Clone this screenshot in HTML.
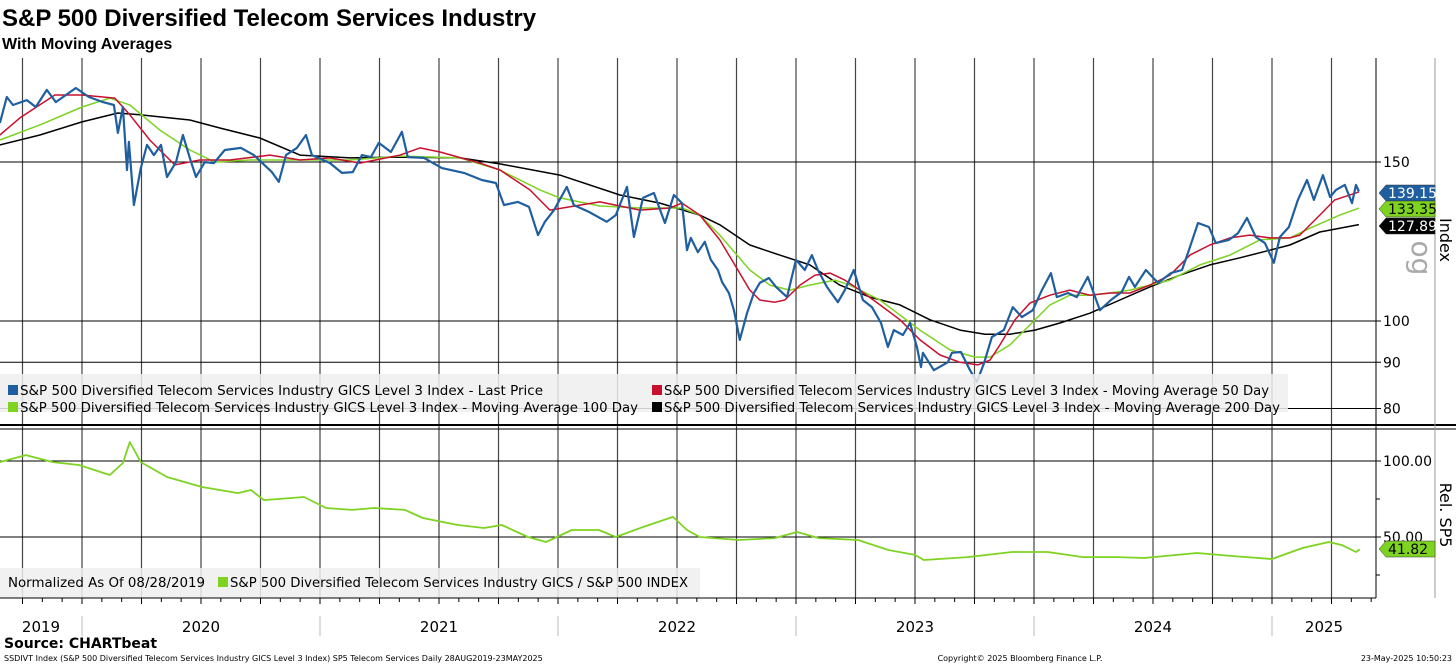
<!DOCTYPE html>
<html><head><meta charset="utf-8">
<style>
body{margin:0;background:#fff;width:1456px;height:665px;overflow:hidden;font-family:"Liberation Sans",sans-serif;}
svg text{font-family:"DejaVu Sans","Liberation Sans",sans-serif;}
</style></head>
<body>
<svg id="chart" width="1456" height="665" viewBox="0 0 1456 665" xmlns="http://www.w3.org/2000/svg">
<text x="2" y="26" font-size="24" font-weight="bold" fill="#000" style="font-family:'Liberation Sans',sans-serif">S&amp;P 500 Diversified Telecom Services Industry</text>
<text x="2" y="49" font-size="16" font-weight="bold" fill="#000" style="font-family:'Liberation Sans',sans-serif">With Moving Averages</text>
<g id="grid"></g>
<g id="series"></g>
<g id="legend"></g>
<g id="axes"></g>
</svg>
<script>
// Top panel data (decimal year, index value)
const priceDates=[2019.655,2019.684,2019.71,2019.768,2019.806,2019.852,2019.89,2019.974,2020.029,2020.088,2020.134,2020.151,2020.172,2020.189,2020.197,2020.218,2020.247,2020.273,2020.302,2020.332,2020.357,2020.395,2020.424,2020.453,2020.479,2020.516,2020.554,2020.6,2020.668,2020.722,2020.798,2020.827,2020.857,2020.903,2020.941,2020.966,2021.042,2021.092,2021.138,2021.176,2021.214,2021.247,2021.298,2021.344,2021.369,2021.437,2021.512,2021.605,2021.68,2021.739,2021.773,2021.831,2021.878,2021.916,2021.945,2021.983,2022.037,2022.067,2022.13,2022.205,2022.243,2022.29,2022.319,2022.357,2022.403,2022.449,2022.487,2022.521,2022.542,2022.558,2022.588,2022.617,2022.642,2022.672,2022.689,2022.718,2022.739,2022.764,2022.794,2022.823,2022.848,2022.886,2022.916,2022.962,2023.0,2023.037,2023.067,2023.092,2023.13,2023.176,2023.205,2023.243,2023.281,2023.319,2023.357,2023.386,2023.411,2023.449,2023.479,2023.508,2023.525,2023.533,2023.579,2023.638,2023.655,2023.693,2023.731,2023.76,2023.79,2023.823,2023.873,2023.911,2023.949,2023.995,2024.033,2024.071,2024.096,2024.143,2024.18,2024.226,2024.277,2024.323,2024.369,2024.399,2024.424,2024.47,2024.521,2024.575,2024.622,2024.651,2024.689,2024.735,2024.764,2024.819,2024.857,2024.895,2024.932,2024.97,2025.008,2025.033,2025.071,2025.109,2025.147,2025.176,2025.214,2025.244,2025.269,2025.306,2025.336,2025.353,2025.365];
const priceVals=[165.7,177.1,173.5,175.7,172.6,180.3,174.8,181.2,177.1,174.8,173.5,161.6,172.6,147.0,157.9,134.4,147.7,156.7,152.7,156.7,144.4,150.0,160.7,151.6,144.4,150.0,149.6,154.7,155.5,152.7,146.2,142.6,152.7,155.5,160.7,152.7,149.6,145.9,146.2,152.7,151.9,157.5,153.9,162.0,151.9,151.6,147.7,145.9,143.3,142.2,134.4,135.5,133.8,124.5,128.8,132.7,140.8,134.4,132.1,128.8,131.0,140.8,123.9,136.9,138.6,128.4,137.9,135.1,119.8,123.6,119.2,122.4,116.9,113.9,110.5,107.4,102.8,95.3,102.0,107.4,110.2,111.6,109.1,106.3,116.9,113.9,118.3,113.9,109.1,104.9,108.2,113.9,105.5,103.6,99.5,93.6,97.7,96.5,99.5,93.6,88.9,92.2,88.2,90.0,92.2,92.4,88.2,85.6,89.8,96.0,97.7,103.6,101.0,102.8,108.2,113.0,106.3,107.4,106.3,111.9,102.8,105.5,107.7,111.9,109.1,113.9,110.2,113.0,113.9,119.8,128.4,127.1,122.0,123.0,125.1,130.1,123.9,122.0,116.0,123.9,127.1,136.2,143.3,136.2,145.1,137.2,139.7,141.5,135.1,141.5,139.15];
const ma50Dates=[2019.655,2019.739,2019.886,2020.0,2020.138,2020.201,2020.285,2020.39,2020.495,2020.622,2020.79,2020.916,2021.042,2021.168,2021.336,2021.42,2021.504,2021.672,2021.756,2021.882,2021.966,2022.092,2022.176,2022.344,2022.47,2022.521,2022.596,2022.68,2022.743,2022.806,2022.848,2022.911,2022.953,2023.017,2023.079,2023.143,2023.205,2023.268,2023.353,2023.437,2023.521,2023.605,2023.689,2023.764,2023.815,2023.857,2023.92,2023.983,2024.067,2024.151,2024.235,2024.319,2024.403,2024.487,2024.571,2024.655,2024.739,2024.823,2024.907,2024.991,2025.075,2025.117,2025.201,2025.264,2025.365];
const ma50Vals=[160.7,167.9,178.0,178.0,176.6,169.2,158.7,148.9,150.8,150.8,152.7,150.8,151.6,149.6,152.7,155.5,153.9,149.6,147.0,139.7,132.7,134.4,135.5,132.7,133.4,135.1,131.0,123.0,115.4,108.2,105.5,104.9,105.5,109.6,112.4,113.0,111.0,108.2,104.2,100.3,95.3,91.7,90.0,89.4,90.5,94.1,100.3,104.7,106.8,108.2,106.8,107.4,107.4,109.6,112.4,118.3,121.4,123.6,124.5,123.6,123.6,124.5,131.0,136.2,139.0];
const ma100Dates=[2019.655,2019.823,2020.0,2020.117,2020.201,2020.327,2020.453,2020.558,2020.705,2020.916,2021.126,2021.336,2021.588,2021.756,2021.924,2022.008,2022.176,2022.344,2022.521,2022.596,2022.68,2022.806,2022.89,2022.974,2023.058,2023.163,2023.226,2023.353,2023.521,2023.647,2023.752,2023.815,2023.899,2023.983,2024.067,2024.151,2024.235,2024.319,2024.403,2024.487,2024.571,2024.697,2024.823,2024.949,2025.075,2025.159,2025.285,2025.365];
const ma100Vals=[158.7,164.9,172.6,176.6,173.5,162.8,154.7,150.0,150.8,150.8,150.8,152.3,151.6,147.0,139.7,136.9,134.1,133.4,133.4,131.0,124.5,113.9,109.6,108.2,109.6,111.0,109.6,105.5,97.7,92.9,91.2,91.2,94.1,99.0,104.2,106.8,106.8,107.4,108.2,109.6,111.0,115.4,118.3,123.0,123.6,126.7,131.0,133.35];
const ma200Dates=[2019.655,2019.823,2020.0,2020.151,2020.243,2020.453,2020.579,2020.747,2020.916,2021.126,2021.336,2021.588,2021.756,2022.008,2022.26,2022.428,2022.596,2022.68,2022.806,2022.932,2023.058,2023.184,2023.31,2023.437,2023.563,2023.689,2023.794,2023.899,2024.004,2024.109,2024.235,2024.361,2024.487,2024.613,2024.739,2024.865,2024.991,2025.075,2025.201,2025.365];
const ma200Vals=[156.7,160.7,166.2,170.0,169.2,167.0,163.6,159.5,152.7,151.6,151.9,151.6,149.3,145.1,137.9,135.1,131.0,127.8,121.4,118.3,115.4,109.6,106.3,104.2,100.3,97.7,96.7,96.7,97.7,99.5,102.0,105.5,109.1,112.4,115.4,117.5,119.8,121.4,125.5,127.89];
// Bottom panel: relative to S&P 500, normalized
const relDates=[2019.655,2019.764,2019.878,2019.987,2020.117,2020.172,2020.201,2020.247,2020.357,2020.504,2020.655,2020.71,2020.764,2020.933,2021.025,2021.134,2021.227,2021.357,2021.432,2021.579,2021.689,2021.764,2021.874,2021.95,2022.058,2022.172,2022.243,2022.357,2022.483,2022.542,2022.596,2022.76,2022.911,2023.004,2023.096,2023.26,2023.39,2023.5,2023.537,2023.722,2023.907,2024.058,2024.206,2024.353,2024.462,2024.685,2024.832,2025.0,2025.13,2025.239,2025.294,2025.353,2025.369];
const relVals=[99.3,103.9,99.3,97.4,90.8,98.7,112.5,99.3,89.5,82.9,78.9,80.9,74.3,76.3,69.1,67.8,69.1,67.8,62.5,57.9,55.9,57.9,50.0,46.7,54.6,54.6,50.0,56.6,63.2,54.6,50.0,48.0,49.3,53.3,49.3,48.0,41.4,38.2,34.9,36.8,40.1,40.1,36.8,36.8,36.2,39.5,37.5,35.5,42.8,46.7,44.7,40.1,41.82];
const topTicks=[80,90,100,150];
const relTicks=[100,50];
const yearLabels=["2019","2020","2021","2022","2023","2024","2025"];

const NS="http://www.w3.org/2000/svg";
const R=1376;
function X(t){return 82+(t-2020)*238;}
function YT(v){return 321-392*Math.log(v/100);}
function YB(v){return 537-(v-50)*1.52;}
function mk(tag,attrs,parent){const e=document.createElementNS(NS,tag);for(const k in attrs)e.setAttribute(k,attrs[k]);parent.appendChild(e);return e;}
const grid=document.getElementById('grid'),ser=document.getElementById('series'),leg=document.getElementById('legend'),ax=document.getElementById('axes');

for(let q=2019.75;q<=2025.3;q+=0.25){const x=X(q);
 const l=mk('line',{x1:x,y1:58,x2:x,y2:598,stroke:'#444','stroke-width':1.2},grid);
 
 }
topTicks.forEach(v=>{const y=YT(v);
 const l=mk('line',{x1:0,y1:y,x2:R+5,y2:y,stroke:'#000','stroke-width':1},grid);
 
 
 const t=mk('text',{x:R+7,y:y+5,'font-size':14,fill:'#000'},ax);t.textContent=v;
 
 });
relTicks.forEach(v=>{const y=YB(v);
 const l=mk('line',{x1:0,y1:y,x2:R+5,y2:y,stroke:'#000','stroke-width':1},grid);
 
 
 const t=mk('text',{x:R+7,y:y+5,'font-size':14,fill:'#000'},ax);t.textContent=v.toFixed(2);
 
 });
[75,25].forEach(v=>{mk('line',{x1:R,y1:YB(v),x2:R+4,y2:YB(v),stroke:'#000'},ax);});

function path(ds,vs,yf,color,w,name){let d='';ds.forEach((t,i)=>{d+=(i?'L':'M')+X(t).toFixed(1)+' '+yf(vs[i]).toFixed(1);});
 const p=mk('path',{d:d,fill:'none',stroke:color,'stroke-width':w,'stroke-linejoin':'round'},ser);
 
 }
path(ma200Dates,ma200Vals,YT,'#000',1.5,'ma200-line');
path(ma100Dates,ma100Vals,YT,'#7ed321',1.5,'ma100-line');
path(ma50Dates,ma50Vals,YT,'#c8102e',1.5,'ma50-line');
path(priceDates,priceVals,YT,'#1f5fa0',2.2,'last-price-line');
path(relDates,relVals,YB,'#7ed321',1.8,'relative-line');

mk('line',{x1:R,y1:58,x2:R,y2:598,stroke:'#000'},ax);
mk('line',{x1:0,y1:425,x2:1456,y2:425,stroke:'#000','stroke-width':2},ax);
mk('line',{x1:0,y1:429,x2:1456,y2:429,stroke:'#000','stroke-width':1},ax);
mk('line',{x1:0,y1:598,x2:R,y2:598,stroke:'#000'},ax);
mk('line',{x1:1435,y1:58,x2:1435,y2:598,stroke:'#999'},ax);
for(let m=0;m<70;m++){const x=X(2019.75+m/12);if(x>R)break;mk('line',{x1:x,y1:598,x2:x,y2:(m%3==0)?604:602,stroke:'#000'},ax);}
for(let y=2020;y<=2025;y++){const x=X(y);mk('line',{x1:x,y1:616,x2:x,y2:636,stroke:'#bbb'},ax);}
yearLabels.forEach((s,i)=>{const yr=2019+i;let c=i==0?(0+X(2020))/2:(X(yr)+Math.min(X(yr+1),R))/2;
 const t=mk('text',{x:c,y:632,'font-size':15,'text-anchor':'middle',fill:'#000'},ax);t.textContent=s;
 
 });

function box(x,y,w,h,name){const r=mk('rect',{x:x,y:y,width:w,height:h,fill:'#eeeeee','fill-opacity':0.85},leg);
 
 }
box(0,374,1288,38,'top-legend');
box(0,568,700,30,'bottom-legend');
function entry(x,y,color,txt,len){if(color)mk('rect',{x:x,y:y-10,width:10,height:10,fill:color},leg);
 const t=mk('text',{x:x+(color?12:0),y:y,'font-size':13.5,fill:'#000',textLength:len,lengthAdjust:'spacingAndGlyphs'},leg);t.textContent=txt;
 
 }
entry(8,395,'#1f5fa0','S&P 500 Diversified Telecom Services Industry GICS Level 3 Index - Last Price',523);
entry(652,395,'#c8102e','S&P 500 Diversified Telecom Services Industry GICS Level 3 Index - Moving Average 50 Day',605);
entry(8,412,'#7ed321','S&P 500 Diversified Telecom Services Industry GICS Level 3 Index - Moving Average 100 Day',618);
entry(652,412,'#000','S&P 500 Diversified Telecom Services Industry GICS Level 3 Index - Moving Average 200 Day',616);
entry(8,587,null,'Normalized As Of 08/28/2019',197);
entry(218,587,'#7ed321','S&P 500 Diversified Telecom Services Industry GICS / S&P 500 INDEX',458);

function tag(y,bg,fg,txt,name){const x=R+3;mk('path',{d:`M${x} ${y} L${x+7} ${y-8} L${x+56} ${y-8} L${x+56} ${y+8} L${x+7} ${y+8} Z`,fill:bg,stroke:'#333','stroke-width':0.5},ax);
 const t=mk('text',{x:x+9,y:y+5,'font-size':14,fill:fg},ax);t.textContent=txt;
 
 }
tag(193,'#1f5fa0','#fff','139.15','last-price-tag');
tag(209,'#7ed321','#000','133.35','ma100-tag');
tag(226,'#000','#fff','127.89','ma200-tag');
tag(549,'#7ed321','#000','41.82','relative-tag');

function rot(x,y,txt,size,color,name){const t=mk('text',{x:x,y:y,'font-size':size,fill:color,transform:`rotate(90 ${x} ${y})`,'text-anchor':'middle'},ax);t.textContent=txt;
 
 }
rot(1440,240,'Index',16,'#000','top-axis-title');
rot(1412,258,'og',28,'#aaa','watermark');
rot(1440,515,'Rel. SP5',16,'#000','bottom-axis-title');

function txt(x,y,s,size,weight,anchor,name){const t=mk('text',{x:x,y:y,'font-size':size,'font-weight':weight,'text-anchor':anchor,fill:'#000'},ax);t.textContent=s;
 
 }
txt(4,648,'Source: CHARTbeat',14,'bold','start','source-label');
txt(4,661,'SSDIVT Index (S&P 500 Diversified Telecom Services Industry GICS Level 3 Index) SP5 Telecom Services  Daily 28AUG2019-23MAY2025',8,'normal','start','footer-description');
txt(1020,661,'Copyright© 2025 Bloomberg Finance L.P.',8,'normal','middle','copyright');
txt(1452,661,'23-May-2025 10:50:23',8,'normal','end','timestamp');
</script>
</body></html>
